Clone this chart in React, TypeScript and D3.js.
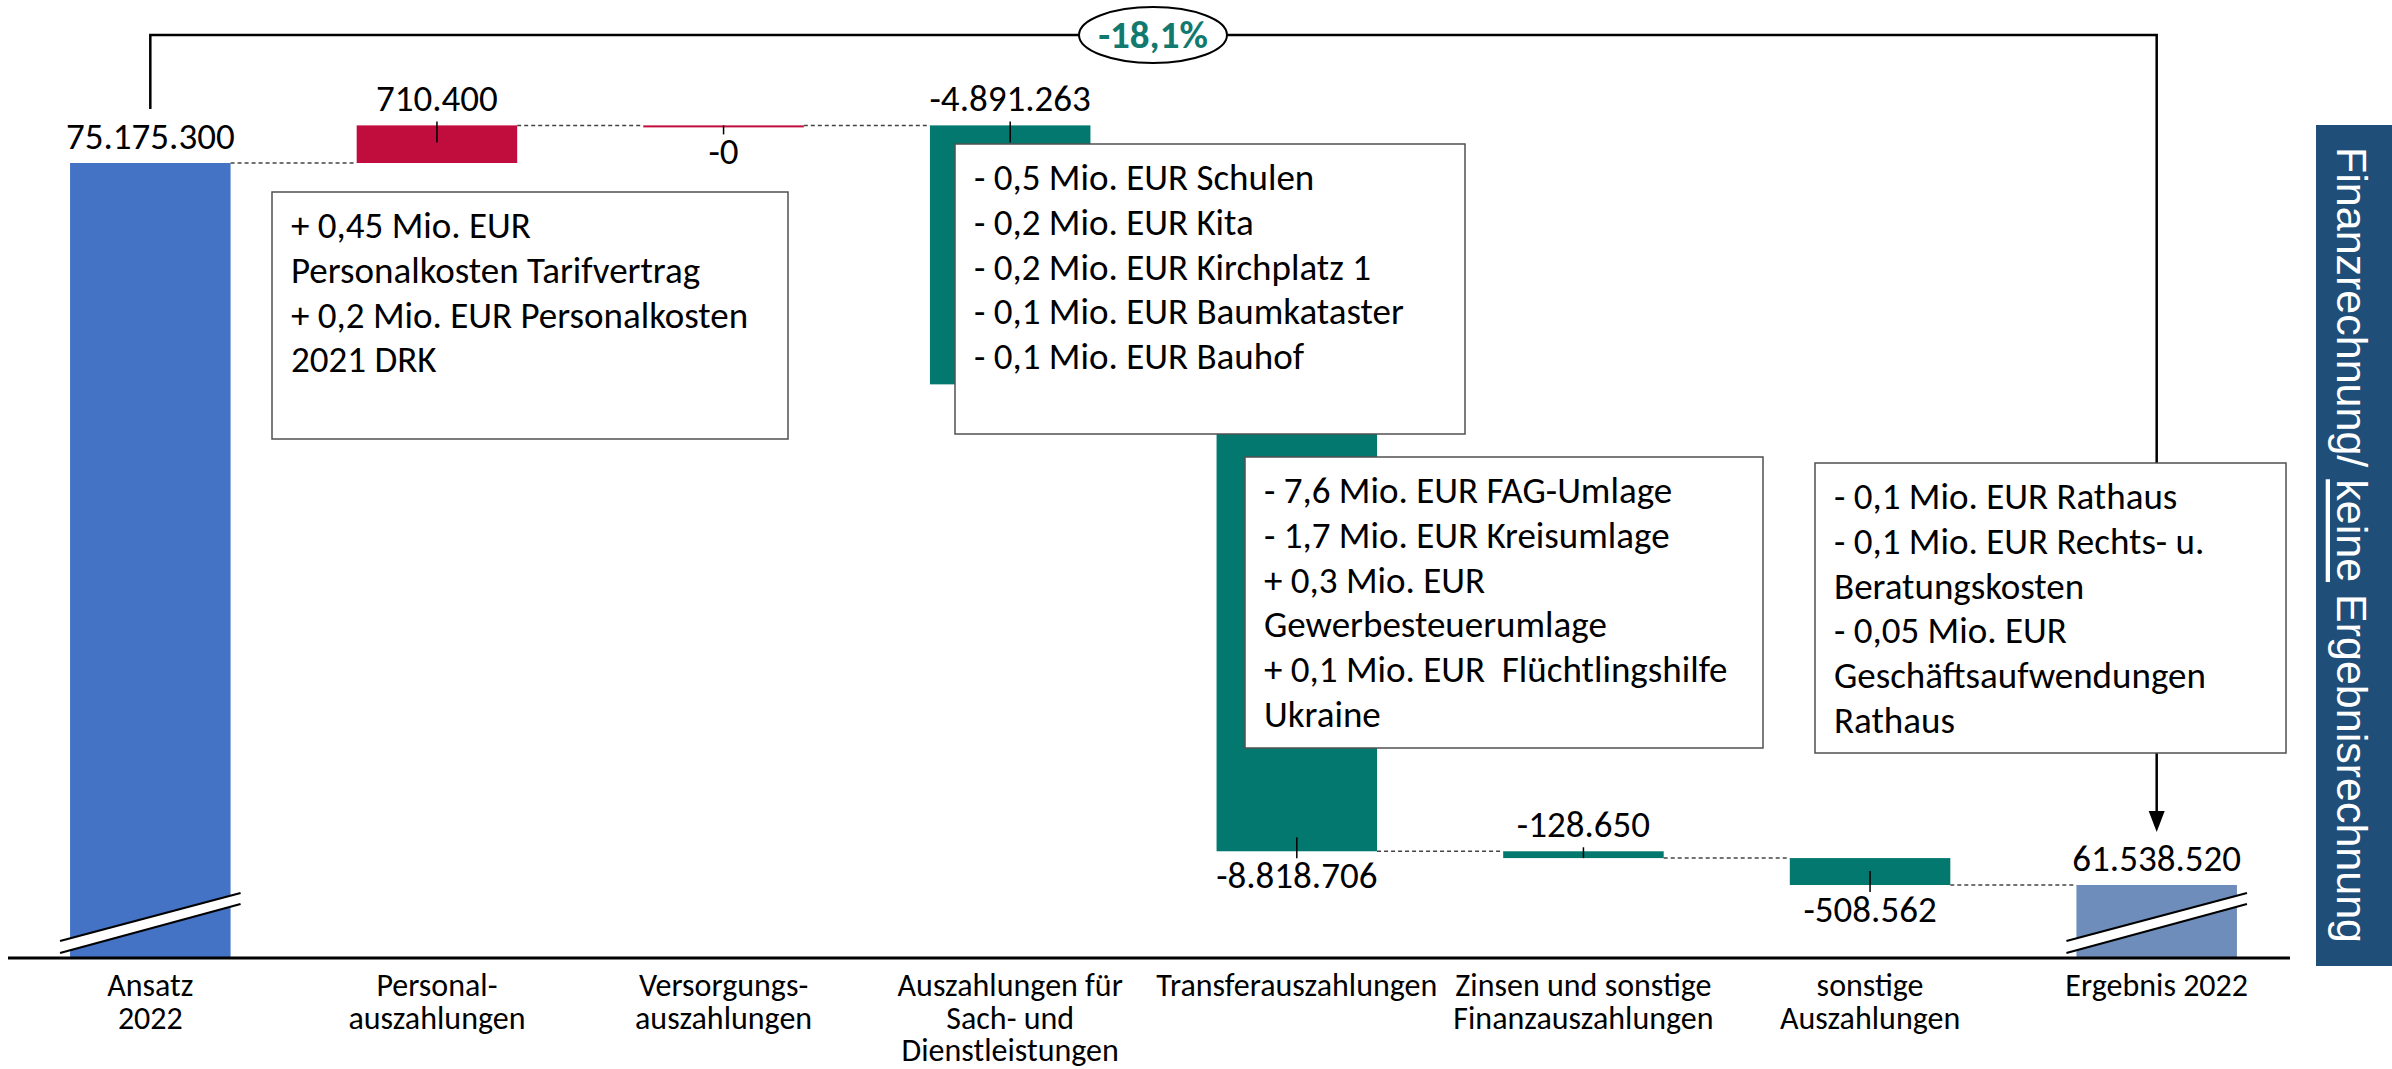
import React from 'react';
import * as d3 from 'd3';

// Waterfall: Finanzrechnung 2022 (Ansatz -> Ergebnis)
const categoryLines: string[][] = [
    ['Ansatz', '2022'],
    ['Personal-', 'auszahlungen'],
    ['Versorgungs-', 'auszahlungen'],
    ['Auszahlungen für', 'Sach- und', 'Dienstleistungen'],
    ['Transferauszahlungen'],
    ['Zinsen und sonstige', 'Finanzauszahlungen'],
    ['sonstige', 'Auszahlungen'],
    ['Ergebnis 2022'],
];

const values = [75175300, 710400, -0, -4891263, -8818706, -128650, -508562, 61538520];
const kinds: ('start' | 'up' | 'down' | 'end')[] = ['start', 'up', 'up', 'down', 'down', 'down', 'down', 'end'];
const valueLabels = ['75.175.300', '710.400', '-0', '-4.891.263', '-8.818.706', '-128.650', '-508.562', '61.538.520'];
const labelBelow = [false, false, true, false, true, false, true, false];

const changeLabel = '-18,1%';

const notePersonal = [
    '+ 0,45 Mio. EUR',
    'Personalkosten Tarifvertrag',
    '+ 0,2 Mio. EUR Personalkosten',
    '2021 DRK',
];
const noteSach = [
    '- 0,5 Mio. EUR Schulen',
    '- 0,2 Mio. EUR Kita',
    '- 0,2 Mio. EUR Kirchplatz 1',
    '- 0,1 Mio. EUR Baumkataster',
    '- 0,1 Mio. EUR Bauhof',
];
const noteTransfer = [
    '- 7,6 Mio. EUR FAG-Umlage',
    '- 1,7 Mio. EUR Kreisumlage',
    '+ 0,3 Mio. EUR',
    'Gewerbesteuerumlage',
    '+ 0,1 Mio. EUR  Flüchtlingshilfe',
    'Ukraine',
];
const noteErgebnis = [
    '- 0,1 Mio. EUR Rathaus',
    '- 0,1 Mio. EUR Rechts- u.',
    'Beratungskosten',
    '- 0,05 Mio. EUR',
    'Geschäftsaufwendungen',
    'Rathaus',
];

const colors = {
    start: '#4472C4',
    up: '#C00D3E',
    down: '#03786F',
    end: '#6E8DBA',
};

const W = 2392;
const H = 1069;
const axisY = 958;
const FONT = "Carlito, Lato, 'Open Sans', sans-serif";

const App: React.FC = () => {
    const x = d3.scaleBand<number>()
        .domain(d3.range(values.length))
        .range([7, 2300])
        .paddingInner(0.44)
        .paddingOuter(0.22);

    // broken axis: the baseline sits at 60,16 Mio.
    const y = d3.scaleLinear()
        .domain([60160000, 75175300])
        .range([axisY, 163]);

    let running = 0;
    const bars = values.map((v, i) => {
        const k = kinds[i];
        let lo: number, hi: number;
        if (k === 'start' || k === 'end') {
            running = v;
            lo = y.domain()[0];
            hi = v;
        } else {
            const prev = running;
            running = prev + v;
            lo = Math.min(prev, running);
            hi = Math.max(prev, running);
        }
        const top = y(hi);
        const bottom = y(lo);
        return { i, k, x0: x(i) as number, top, bottom: Math.max(bottom, top + 2), level: y(running) };
    });

    const bw = x.bandwidth();
    const cx = (i: number) => (x(i) as number) + bw / 2;

    const notes = [
        { lines: notePersonal, x: 272, y: 192, w: 516, h: 247 },
        { lines: noteSach, x: 955, y: 144, w: 510, h: 290 },
        { lines: noteTransfer, x: 1245, y: 457, w: 518, h: 291 },
        { lines: noteErgebnis, x: 1815, y: 463, w: 471, h: 290 },
    ];

    const last = values.length - 1;
    const bracketY = 35;

    const breakMark = (b: typeof bars[0]) => {
        const xa = b.x0 - 10;
        const xb = b.x0 + bw + 10;
        const p1 = [xa, axisY - 17], p2 = [xb, axisY - 65];
        const p3 = [xb, axisY - 54], p4 = [xa, axisY - 5];
        return (
            <g key={'br' + b.i}>
                <polygon points={[p1, p2, p3, p4].map(p => p.join(',')).join(' ')} fill="#fff" />
                <line x1={p1[0]} y1={p1[1]} x2={p2[0]} y2={p2[1]} stroke="#000" strokeWidth={2.2} />
                <line x1={p4[0]} y1={p4[1]} x2={p3[0]} y2={p3[1]} stroke="#000" strokeWidth={2.2} />
            </g>
        );
    };

    return (
        <div style={{ position: 'absolute', left: 0, top: 0 }}>
            <svg width={W} height={H} viewBox={`0 0 ${W} ${H}`} style={{ display: 'block', background: '#fff' }}>
                {/* bars */}
                {bars.map(b => (
                    <rect key={'b' + b.i} x={b.x0} y={b.top} width={bw} height={b.bottom - b.top} fill={colors[b.k]} />
                ))}

                {/* connectors */}
                {bars.slice(0, -1).map((b, j) => (
                    <line key={'c' + j} x1={b.x0 + bw} x2={bars[j + 1].x0} y1={b.level} y2={b.level}
                        stroke="#444" strokeWidth={1.5} strokeDasharray="4,3" />
                ))}

                {bars.map(b => breakMark(b)).filter((_, i) => kinds[i] === 'start' || kinds[i] === 'end')}

                {/* value labels and leader ticks */}
                {bars.map(b => {
                    const below = labelBelow[b.i];
                    const ty = below ? b.bottom + 37 : b.top - 14;
                    const isDelta = b.k === 'up' || b.k === 'down';
                    const t1 = below ? Math.max(b.bottom - 14, b.top) : b.top - 4;
                    const t2 = below ? b.bottom + 7 : Math.min(b.top + 17, b.bottom);
                    return (
                        <g key={'l' + b.i}>
                            {isDelta && <line x1={cx(b.i)} x2={cx(b.i)} y1={t1} y2={t2} stroke="#000" strokeWidth={1.5} />}
                            <text x={cx(b.i)} y={ty} textAnchor="middle" fontFamily={FONT} fontSize={37} fill="#000">
                                {valueLabels[b.i]}
                            </text>
                        </g>
                    );
                })}

                {/* bracket with arrow */}
                <path d={`M${cx(0)},${bars[0].top - 54} V${bracketY} H${cx(last)} V812`} fill="none" stroke="#000" strokeWidth={2.5} />
                <polygon points={`${cx(last) - 8},811 ${cx(last) + 8},811 ${cx(last)},832`} fill="#000" />

                {/* notes */}
                {notes.map((n, k) => (
                    <g key={'n' + k}>
                        <rect x={n.x} y={n.y} width={n.w} height={n.h} fill="#fff" stroke="#505050" strokeWidth={1.5} />
                        {n.lines.map((ln, j) => (
                            <text key={j} x={n.x + 19} y={n.y + 46 + j * 44.8} fontFamily={FONT} fontSize={37}
                                fill="#000" style={{ whiteSpace: 'pre' }}>{ln}</text>
                        ))}
                    </g>
                ))}

                {/* percentage bubble */}
                <ellipse cx={1153} cy={bracketY} rx={74} ry={28} fill="#fff" stroke="#000" strokeWidth={2} />
                <text x={1153} y={bracketY + 13} textAnchor="middle" fontFamily={FONT} fontWeight="bold" fontSize={39} fill="#12796F">
                    {changeLabel}
                </text>

                {/* axis */}
                <line x1={8} x2={2290} y1={axisY} y2={axisY} stroke="#000" strokeWidth={3} />
                {categoryLines.map((lines, i) => (
                    <text key={'x' + i} textAnchor="middle" fontFamily={FONT} fontSize={32} fill="#000">
                        {lines.map((ln, j) => (
                            <tspan key={j} x={cx(i)} y={996 + j * 32.5}>{ln}</tspan>
                        ))}
                    </text>
                ))}

                {/* side panel */}
                <rect x={2316} y={125} width={W - 2316} height={841} fill="#1F4E79" />
                <text transform="translate(2352,545) rotate(90)" textAnchor="middle" dominantBaseline="central"
                    fontFamily="'Liberation Sans', Arial, sans-serif" fontSize={43} fill="#fff">
                    Finanzrechnung/ <tspan style={{ textDecoration: 'underline' }}>keine</tspan> Ergebnisrechnung
                </text>
            </svg>
        </div>
    );
};

export default App;
